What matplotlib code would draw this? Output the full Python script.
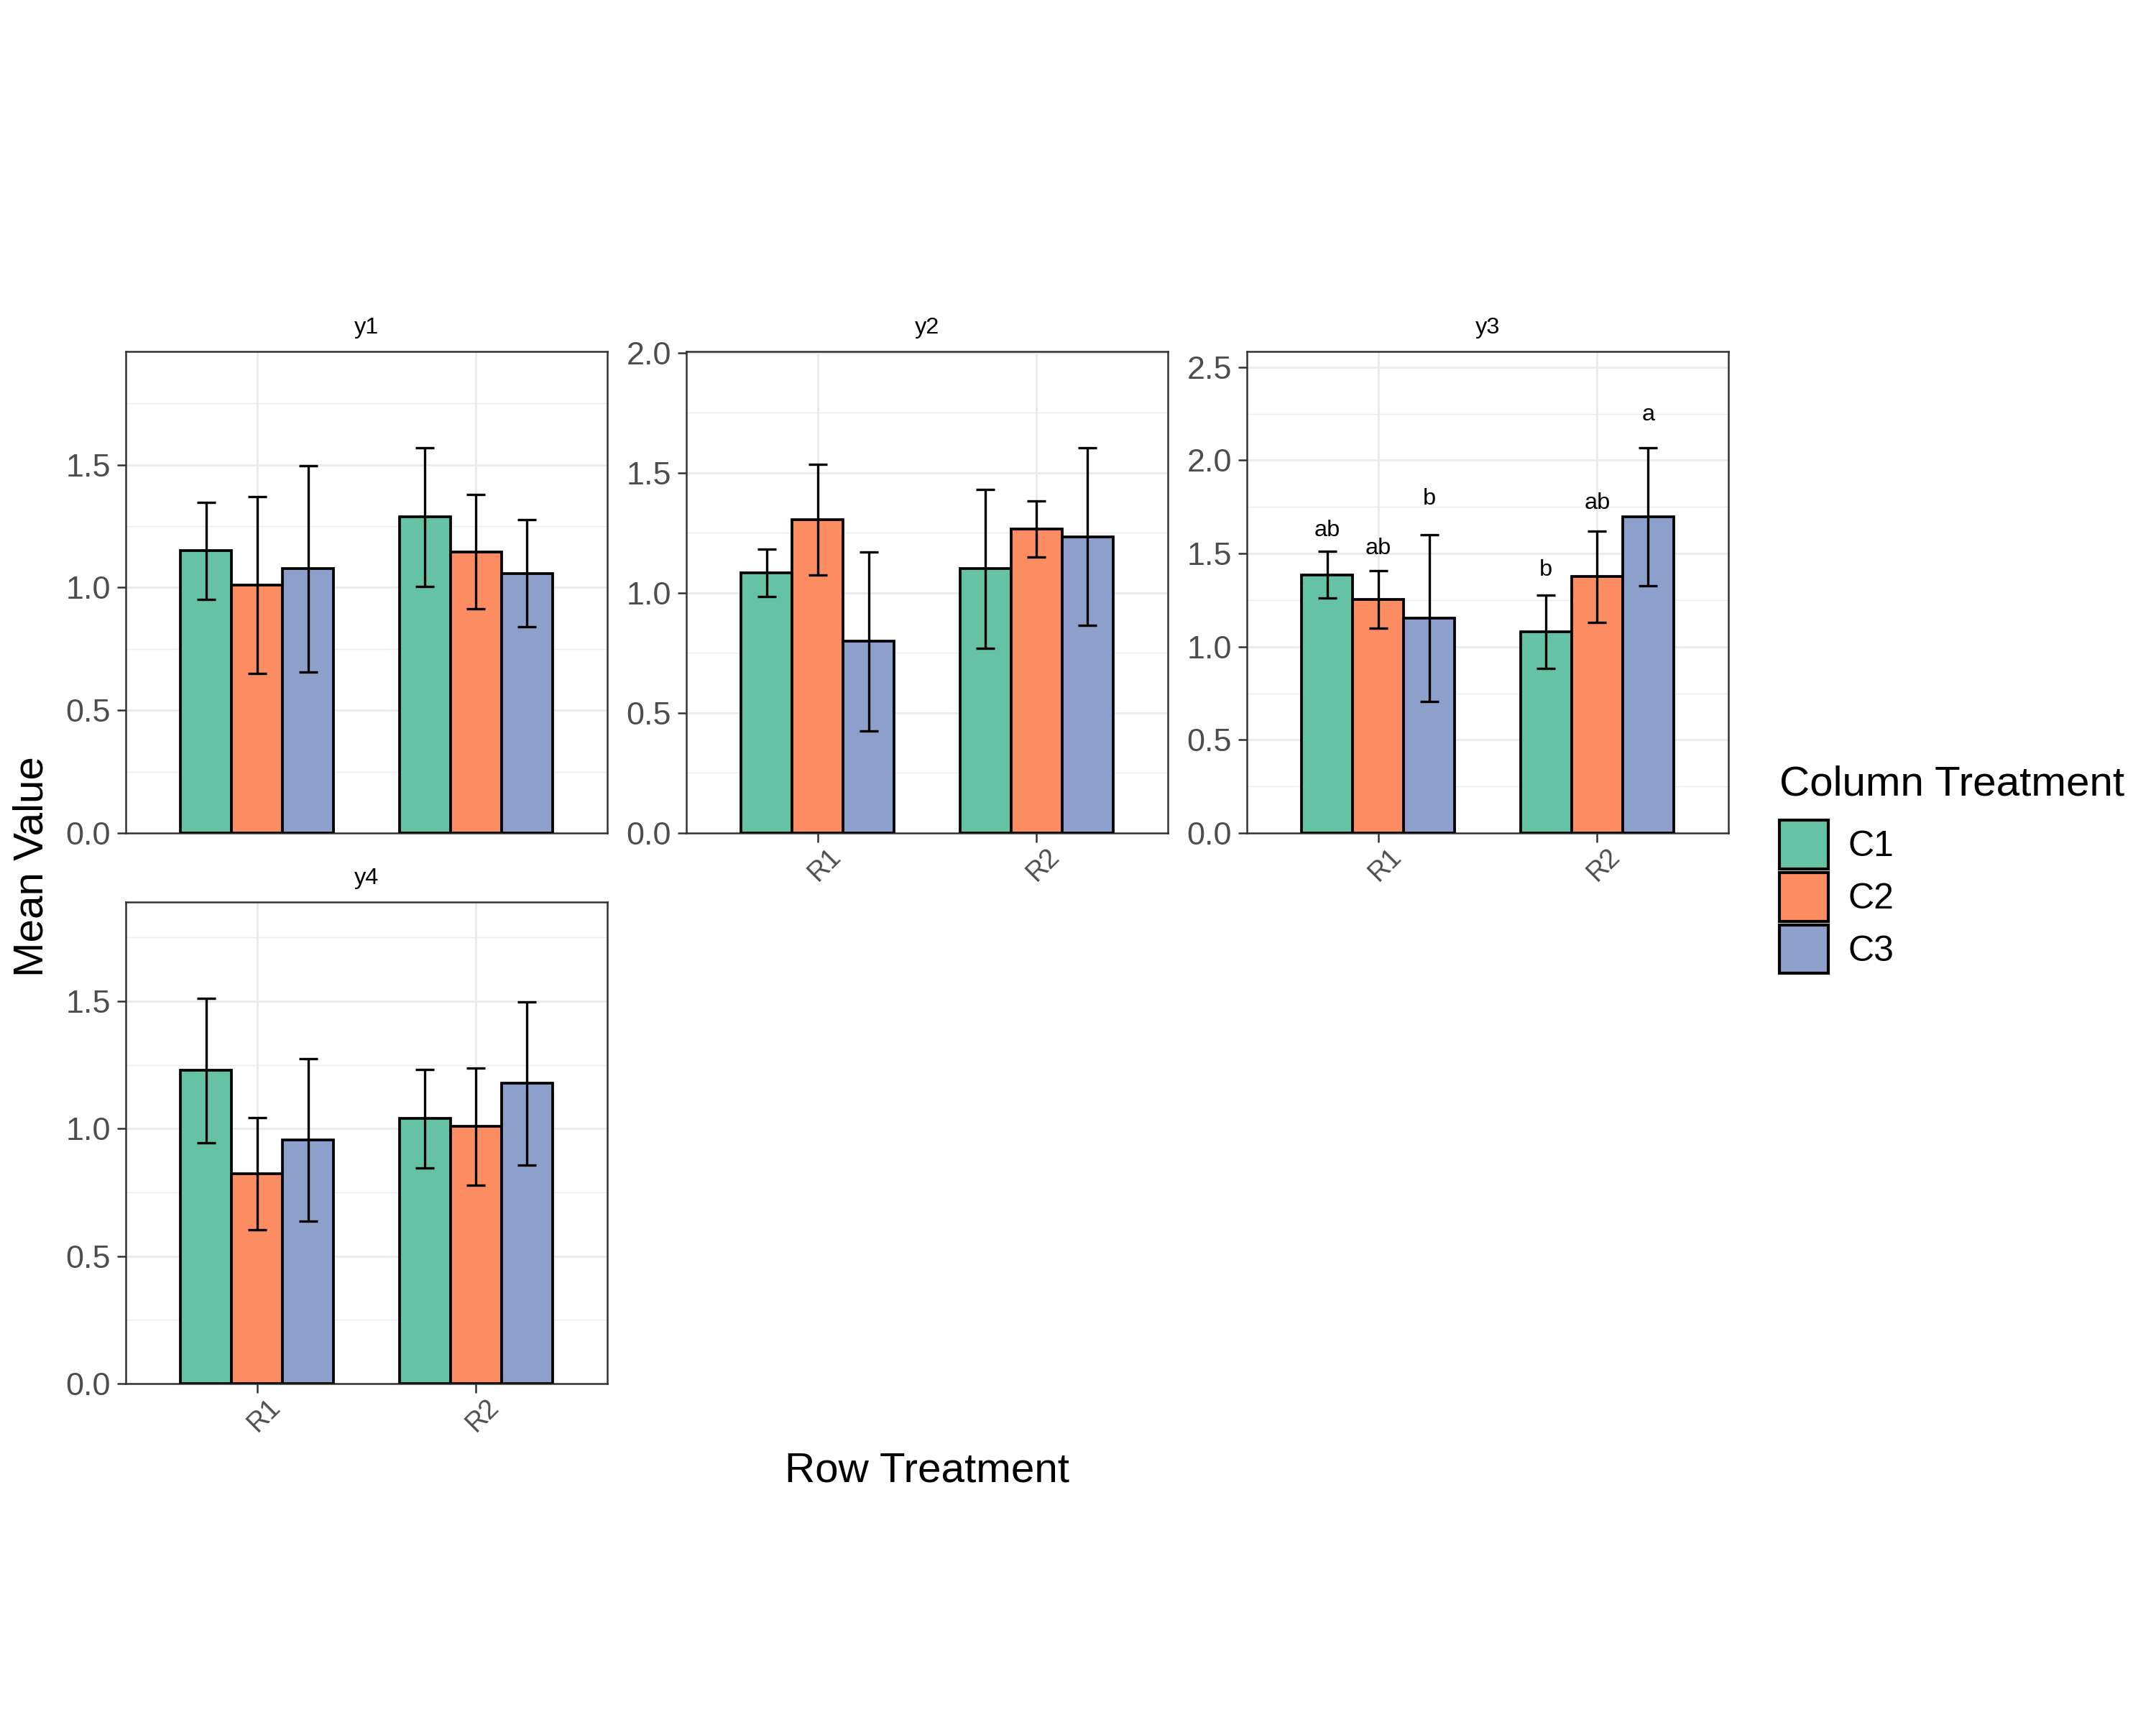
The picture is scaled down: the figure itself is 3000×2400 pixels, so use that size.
import numpy as np
import matplotlib
matplotlib.use("Agg")
import matplotlib.pyplot as plt
from matplotlib.patches import Patch
from matplotlib.ticker import MultipleLocator, FormatStrFormatter
from matplotlib.transforms import ScaledTranslation

plt.rcParams['font.family'] = ['Liberation Sans', 'DejaVu Sans']

# datos
rows = ["R1", "R2"]
cols = ["C1", "C2", "C3"]
colores = ["#66C2A5", "#FC8D62", "#8DA0CB"]

y1_mean = [[1.149, 1.009, 1.076], [1.287, 1.145, 1.058]]
y1_err = [[0.197, 0.360, 0.420], [0.282, 0.233, 0.217]]

y2_mean = [[1.083, 1.304, 0.798], [1.100, 1.266, 1.234]]
y2_err = [[0.098, 0.230, 0.373], [0.330, 0.116, 0.370]]

y3_mean = [[1.386, 1.253, 1.153], [1.080, 1.375, 1.697]]
y3_err = [[0.124, 0.154, 0.447], [0.195, 0.246, 0.370]]
y3_letras = [["ab", "ab", "b"], ["b", "ab", "a"]]
y3_letras_y = [[1.591, 1.495, 1.764], [1.380, 1.739, 2.212]]

y4_mean = [[1.228, 0.822, 0.955], [1.039, 1.008, 1.177]]
y4_err = [[0.283, 0.220, 0.319], [0.193, 0.230, 0.320]]

paneles = {
    "y1": (y1_mean, y1_err),
    "y2": (y2_mean, y2_err),
    "y3": (y3_mean, y3_err),
    "y4": (y4_mean, y4_err),
}

W, H = 3000, 2400
fig = plt.figure(figsize=(10, 8), dpi=300)

pw, ph = 670 / W, 670 / H
posiciones = {
    "y1": (175 / W, 1 - 1159 / H),
    "y2": (955 / W, 1 - 1159 / H),
    "y3": (1735 / W, 1 - 1159 / H),
    "y4": (175 / W, 1 - 1925 / H),
}
con_etiquetas_x = {"y1": False, "y2": True, "y3": True, "y4": True}

ancho = 0.7 / 3
gris_borde = "#333333"
gris_grid = "#EBEBEB"
desplazar = ScaledTranslation(10 / 300, 0, fig.dpi_scale_trans)

for nombre, (media, err) in paneles.items():
    media = np.array(media)
    err = np.array(err)
    x0, y0 = posiciones[nombre]
    ax = fig.add_axes([x0, y0, pw, ph])
    x = np.arange(1, len(rows) + 1)
    for j, c in enumerate(cols):
        xs = x + (j - 1) * ancho
        ax.bar(xs, media[:, j], width=ancho, color=colores[j],
               edgecolor="black", linewidth=0.9, zorder=3)
        ax.errorbar(xs, media[:, j], yerr=err[:, j], fmt="none",
                    ecolor="black", elinewidth=0.8, capsize=3.2,
                    capthick=0.8, zorder=4)
        if nombre == "y3":
            for i in range(len(rows)):
                ax.text(xs[i], y3_letras_y[i][j], y3_letras[i][j],
                        ha="center", va="baseline", fontsize=7.8, zorder=5)
    tope = (media + err).max() * 1.25
    ax.set_ylim(0, tope)
    ax.set_xlim(0.4, 2.6)
    ax.yaxis.set_major_locator(MultipleLocator(0.5))
    ax.yaxis.set_minor_locator(MultipleLocator(0.25))
    ax.yaxis.set_major_formatter(FormatStrFormatter("%.1f"))
    ax.set_xticks(x)
    ax.grid(True, which="major", color=gris_grid, linewidth=0.7, zorder=0)
    ax.grid(True, which="minor", axis="y", color=gris_grid, linewidth=0.35, zorder=0)
    ax.set_axisbelow(True)
    for s in ax.spines.values():
        s.set_color(gris_borde)
        s.set_linewidth(0.6)
    ax.tick_params(axis="both", which="major", length=3, width=0.6,
                   color=gris_borde, labelcolor="#4D4D4D", labelsize=10.8, pad=2)
    ax.tick_params(axis="y", which="minor", length=0)
    if con_etiquetas_x[nombre]:
        ax.set_xticklabels(rows, rotation=45, ha="center", va="top", fontsize=9)
        ax.tick_params(axis="x", pad=0.5)
        for lab in ax.get_xticklabels():
            lab.set_transform(lab.get_transform() + desplazar)
    else:
        ax.tick_params(axis="x", length=0, labelbottom=False)
    ax.set_title(nombre, fontsize=7.8, pad=6)

fig.text(1290 / W, 1 - 2062 / H, "Row Treatment", ha="center", va="baseline", fontsize=14)
fig.text(45 / W, 1 - 1206 / H, "Mean Value", ha="center", va="center",
         rotation=90, fontsize=14)

# leyenda: titulo aparte para controlar la separacion
fig.text(2476 / W, 1 - 1107 / H, "Column Treatment", ha="left", va="baseline", fontsize=14)
manijas = [Patch(facecolor=colores[k], edgecolor="black", linewidth=1.0) for k in range(3)]
fig.legend(manijas, cols, loc="upper left",
           bbox_to_anchor=(2456 / W, 1 - 1121 / H), frameon=False,
           fontsize=12, handlelength=1.36, handleheight=1.71, labelspacing=0.1,
           handletextpad=0.55, borderaxespad=0)

fig.savefig("out.png", dpi=300, facecolor="white")
